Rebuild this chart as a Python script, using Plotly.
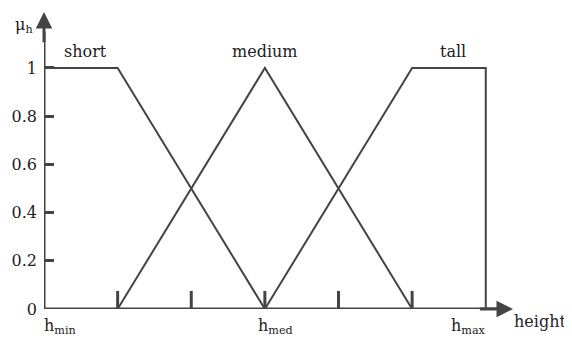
import plotly.graph_objs as go

# membership functions over the height scale (h_min = 0 ... h_max = 6)
short_x = [0, 1, 3]
short_mu = [1, 1, 0]
medium_x = [1, 3, 5]
medium_mu = [0, 1, 0]
tall_x = [3, 5, 6, 6]
tall_mu = [0, 1, 1, 0]

set_names = ["short", "medium", "tall"]
set_label_x = [0.56, 3.0, 5.55]

y_ticks = [0, 0.2, 0.4, 0.6, 0.8, 1]
y_ticktext = ["0", "0.2", "0.4", "0.6", "0.8", "1"]
x_ticks = [1, 2, 3, 4, 5]
x_labels = ["h<sub>min</sub>", "h<sub>med</sub>", "h<sub>max</sub>"]
x_label_pos = [0.22, 3.15, 5.76]

X_MAX = 6.37
Y_MAX = 1.232

ink = "#444444"
font = dict(family="DejaVu Serif", size=16, color="#222222")


def px(x):
    # data x -> paper fraction (for labels that sit outside the axis range)
    return x / X_MAX


def py(y):
    return y / Y_MAX


data = [
    go.Scatter(x=xs, y=ys, mode="lines", line=dict(color=ink, width=2),
               showlegend=False, hoverinfo="skip", cliponaxis=False)
    for xs, ys in [(short_x, short_mu), (medium_x, medium_mu), (tall_x, tall_mu)]
]

annotations = []
for name, x in zip(set_names, set_label_x):
    annotations.append(dict(x=x, y=1.02, text=name, showarrow=False,
                            yanchor="bottom", font=font))
for lab, x in zip(x_labels, x_label_pos):
    annotations.append(dict(x=px(x), y=py(-0.022), xref="paper", yref="paper",
                            text=lab, showarrow=False, xanchor="center",
                            yanchor="top", font=font))
annotations += [
    dict(x=px(6.73), y=py(-0.05), xref="paper", yref="paper", text="height",
         showarrow=False, xanchor="center", yanchor="middle", font=font),
    dict(x=px(-0.27), y=py(1.175), xref="paper", yref="paper",
         text="μ<sub>h</sub>", showarrow=False, xanchor="center",
         yanchor="middle", font=font),
    # axis arrows
    dict(x=6.37, y=0, ax=5.9, ay=0, axref="x", ayref="y", xref="x", yref="y",
         text="", showarrow=True, arrowhead=2, arrowsize=1.1, arrowwidth=3,
         arrowcolor=ink),
    dict(x=0, y=1.232, ax=0, ay=1.1, axref="x", ayref="y", xref="x", yref="y",
         text="", showarrow=True, arrowhead=2, arrowsize=1.1, arrowwidth=3,
         arrowcolor=ink),
]

# upward ticks on the height axis
shapes = [
    dict(type="line", xref="x", yref="y", x0=t, x1=t, y0=0, y1=0.075,
         line=dict(color=ink, width=3))
    for t in x_ticks
]
# the two axes themselves
shapes += [
    dict(type="line", xref="x", yref="y", x0=0, x1=6.2, y0=0, y1=0,
         line=dict(color=ink, width=3)),
    dict(type="line", xref="x", yref="y", x0=0, x1=0, y0=0, y1=1.15,
         line=dict(color=ink, width=3)),
]

# page body has an 8px margin, so the figure is 8px smaller than the window
layout = go.Layout(
    width=564, height=330,
    margin=dict(l=36, r=59, t=4, b=29),
    paper_bgcolor="white", plot_bgcolor="white",
    xaxis=dict(range=[0, X_MAX], showgrid=False, zeroline=False,
               showline=False, automargin=False,
               showticklabels=False, ticks=""),
    yaxis=dict(range=[0, Y_MAX], showgrid=False, zeroline=False,
               showline=False, automargin=False,
               tickvals=y_ticks, ticktext=y_ticktext, ticks="inside",
               ticklen=10, tickwidth=3, tickcolor=ink, tickfont=font,
               ticklabelstandoff=6),
    annotations=annotations,
    shapes=shapes,
)

fig = go.Figure(data=data, layout=layout)
fig.write_html("out.html")
